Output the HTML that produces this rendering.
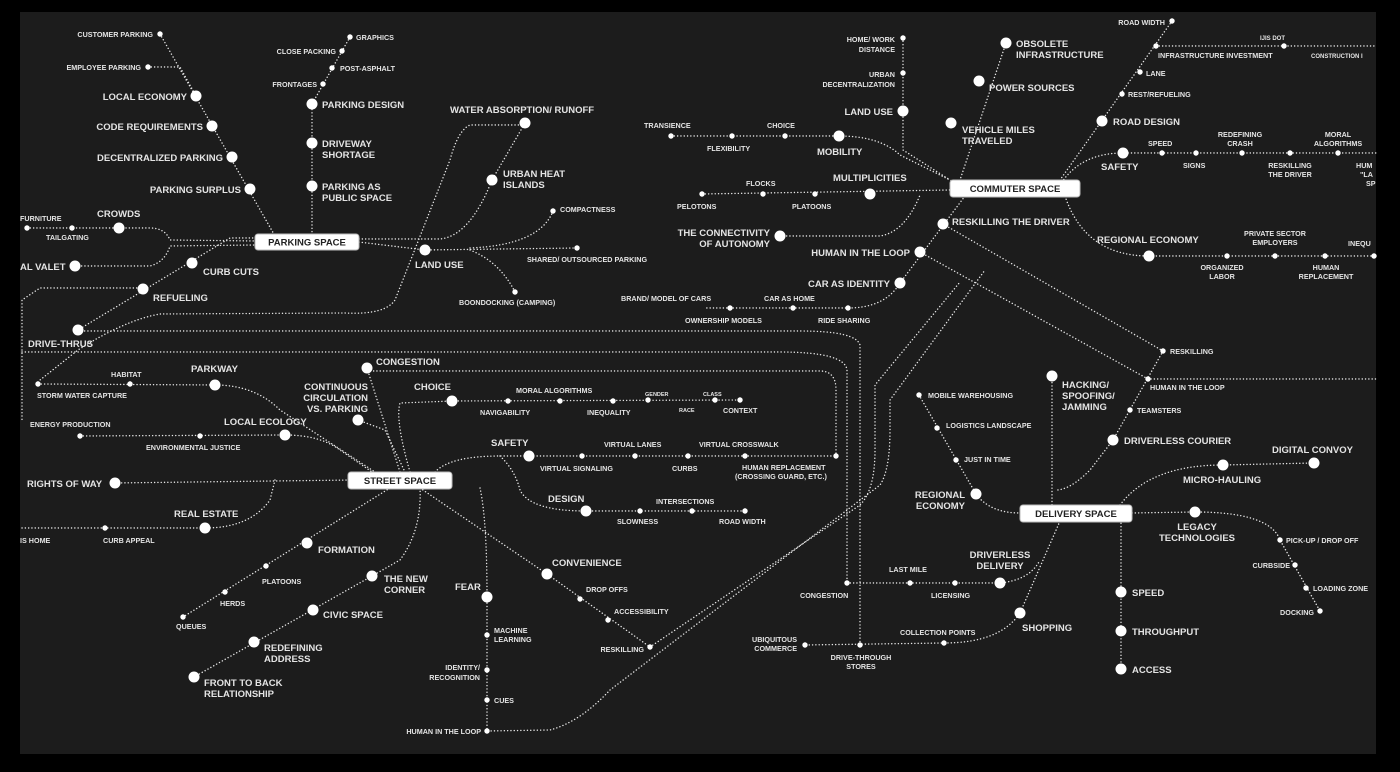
<!DOCTYPE html>
<html><head><meta charset="utf-8"><style>
html,body{margin:0;padding:0;background:#000;}
svg{display:block}
.l{fill:none;stroke:#e6e6e6;stroke-width:1.4;stroke-dasharray:0.1 3.2;stroke-linecap:round}
.B{fill:#fff}
.s{fill:#fff}
text{font-family:"Liberation Sans Narrow","Liberation Sans",sans-serif;fill:#e4e4e4;font-weight:bold}
.t{font-size:9.5px}
.u{font-size:7.2px}
.e{text-anchor:end}
.m{text-anchor:middle}
.bx{fill:#fff;stroke:#bbb;stroke-width:1}
.bt{font-size:9.5px;fill:#222;text-anchor:middle;font-family:"Liberation Sans",sans-serif}
</style></head><body>
<svg width="1400" height="772" viewBox="0 0 1400 772" xmlns="http://www.w3.org/2000/svg">
<rect x="0" y="0" width="1400" height="772" fill="#000"/>
<rect x="20" y="12" width="1356" height="742" fill="#1c1c1c"/>

<!-- ===== LINES ===== -->
<g class="l">
<!-- parking space -->
<path d="M160,34 L275,236"/>
<path d="M148,67 L180,67 L196,96"/>
<path d="M350,37 L312,104 L312,234"/>
<path d="M359,242 L425,250 L577,248"/>
<path d="M470,248 Q540,245 553,211"/>
<path d="M470,250 Q500,262 515,292"/>
<path d="M359,239 L440,239 Q470,236 492,180 L525,123"/>
<path d="M27,228 L150,228 Q165,228 170,240 L255,241"/>
<path d="M75,266 L150,266 Q165,262 170,246 L255,245"/>
<path d="M256,238 L230,238 L78,330"/>
<path d="M140,288 L40,288 L22,300 L22,420"/>
<path d="M525,125 L470,125 Q458,130 450,160 L395,300 Q385,315 345,313 L160,314 Q125,320 78,350 L40,380"/>
<!-- long horizontals -->
<path d="M78,331 L800,331 Q856,331 860,345 L860,645"/>
<path d="M22,352 L780,352 Q845,352 847,370 L847,583"/>
<path d="M367,371 L820,371 Q836,371 836,390 L836,456"/>
<!-- street space -->
<path d="M367,368 L400,472"/>
<path d="M38,384 L215,385 Q255,385 280,410 L375,472"/>
<path d="M80,436 L285,435 Q320,435 340,450 L375,474"/>
<path d="M358,420 L385,430 L405,472"/>
<path d="M410,472 Q395,420 400,403 L452,401 L740,400"/>
<path d="M115,483 L354,480"/>
<path d="M22,528 L205,528 Q250,528 270,500 L275,480"/>
<path d="M390,488 L183,617"/>
<path d="M420,488 Q422,530 400,560 L372,576 L194,677"/>
<path d="M480,488 Q487,520 487,597 L487,731 L550,730 Q580,722 610,690"/>
<path d="M420,488 L547,574 L650,647"/>
<path d="M435,472 Q450,456 500,456 L836,456"/>
<path d="M500,456 Q515,470 520,490 Q530,511 586,511 L745,511"/>
<!-- diagonals -->
<path d="M610,690 L880,485 Q890,470 890,430 L890,400 L985,270"/>
<path d="M650,647 L860,505 Q875,490 875,450 L875,385 L960,282"/>
<!-- commuter -->
<path d="M903,38 L903,150 L950,180"/>
<path d="M1006,43 L960,180"/>
<path d="M671,136 L839,136 Q880,136 900,155 L960,185"/>
<path d="M702,194 L950,190"/>
<path d="M780,236 L880,236 Q905,232 920,195"/>
<path d="M965,196 L900,283 Q885,308 848,308 L705,308"/>
<path d="M1172,21 L1060,180"/>
<path d="M1156,46 L1376,46"/>
<path d="M1060,185 Q1080,153 1123,153 L1376,153"/>
<path d="M1065,196 Q1085,256 1149,256 L1376,256"/>
<path d="M943,224 L1163,351"/>
<path d="M920,252 L1148,379 L1376,379"/>
<path d="M1163,351 L1113,440 L1090,470 Q1070,490 1056,490"/>
<path d="M1052,376 L1052,505"/>
<path d="M919,395 L976,494 Q990,513 1020,513"/>
<path d="M1120,505 Q1150,465 1223,465 L1314,463"/>
<path d="M1132,513 L1195,512 Q1270,512 1280,540 L1320,611"/>
<path d="M1121,520 L1121,669"/>
<path d="M1060,521 L1020,613 Q1000,643 944,643 L805,645"/>
<path d="M847,583 L1000,583 Q1030,580 1040,560"/>
</g>

<!-- ===== BOXES ===== -->
<rect class="bx" x="255" y="234" width="104" height="16" rx="3"/>
<text class="bt" x="307" y="245.5">PARKING SPACE</text>
<rect class="bx" x="950" y="180" width="130" height="17" rx="3"/>
<text class="bt" x="1015" y="192">COMMUTER SPACE</text>
<rect class="bx" x="348" y="472" width="104" height="17" rx="3"/>
<text class="bt" x="400" y="484">STREET SPACE</text>
<rect class="bx" x="1020" y="505" width="112" height="17" rx="3"/>
<text class="bt" x="1076" y="517">DELIVERY SPACE</text>

<!-- ===== BIG NODES ===== -->
<g class="B">
<circle cx="196" cy="96" r="5.5"/><circle cx="212" cy="126" r="5.5"/><circle cx="232" cy="157" r="5.5"/><circle cx="250" cy="189" r="5.5"/>
<circle cx="312" cy="104" r="5.5"/><circle cx="312" cy="143" r="5.5"/><circle cx="312" cy="186" r="5.5"/>
<circle cx="525" cy="123" r="5.5"/><circle cx="492" cy="180" r="5.5"/><circle cx="425" cy="250" r="5.5"/>
<circle cx="119" cy="228" r="5.5"/><circle cx="75" cy="266" r="5.5"/><circle cx="192" cy="263" r="5.5"/><circle cx="143" cy="289" r="5.5"/><circle cx="78" cy="330" r="5.5"/>
<circle cx="367" cy="368" r="5.5"/><circle cx="215" cy="385" r="5.5"/><circle cx="285" cy="435" r="5.5"/><circle cx="358" cy="420" r="5.5"/>
<circle cx="452" cy="401" r="5.5"/><circle cx="529" cy="456" r="5.5"/><circle cx="586" cy="511" r="5.5"/>
<circle cx="115" cy="483" r="5.5"/><circle cx="205" cy="528" r="5.5"/>
<circle cx="307" cy="543" r="5.5"/><circle cx="372" cy="576" r="5.5"/><circle cx="313" cy="610" r="5.5"/><circle cx="254" cy="642" r="5.5"/><circle cx="194" cy="677" r="5.5"/>
<circle cx="487" cy="597" r="5.5"/><circle cx="547" cy="574" r="5.5"/>
<circle cx="903" cy="111" r="5.5"/><circle cx="1006" cy="43" r="5.5"/><circle cx="979" cy="81" r="5.5"/><circle cx="951" cy="123" r="5.5"/>
<circle cx="839" cy="136" r="5.5"/><circle cx="870" cy="194" r="5.5"/><circle cx="780" cy="236" r="5.5"/>
<circle cx="943" cy="224" r="5.5"/><circle cx="920" cy="252" r="5.5"/><circle cx="900" cy="283" r="5.5"/>
<circle cx="1102" cy="121" r="5.5"/><circle cx="1123" cy="153" r="5.5"/><circle cx="1149" cy="256" r="5.5"/>
<circle cx="1052" cy="376" r="5.5"/><circle cx="1113" cy="440" r="5.5"/><circle cx="976" cy="494" r="5.5"/>
<circle cx="1223" cy="465" r="5.5"/><circle cx="1314" cy="463" r="5.5"/><circle cx="1195" cy="512" r="5.5"/>
<circle cx="1121" cy="592" r="5.5"/><circle cx="1121" cy="631" r="5.5"/><circle cx="1121" cy="669" r="5.5"/>
<circle cx="1000" cy="583" r="5.5"/><circle cx="1020" cy="613" r="5.5"/>
</g>
<!-- ===== SMALL NODES ===== -->
<g class="s">
<circle cx="160" cy="34" r="2.7"/><circle cx="148" cy="67" r="2.7"/>
<circle cx="350" cy="37" r="2.7"/><circle cx="342" cy="51" r="2.7"/><circle cx="332" cy="68" r="2.7"/><circle cx="323" cy="84" r="2.7"/>
<circle cx="553" cy="211" r="2.7"/><circle cx="577" cy="248" r="2.7"/><circle cx="515" cy="292" r="2.7"/>
<circle cx="27" cy="228" r="2.7"/><circle cx="72" cy="228" r="2.7"/>
<circle cx="38" cy="384" r="2.7"/><circle cx="130" cy="384" r="2.7"/><circle cx="200" cy="436" r="2.7"/><circle cx="80" cy="436" r="2.7"/>
<circle cx="508" cy="401" r="2.7"/><circle cx="560" cy="401" r="2.7"/><circle cx="613" cy="401" r="2.7"/><circle cx="648" cy="400" r="2.7"/><circle cx="715" cy="400" r="2.7"/><circle cx="740" cy="400" r="2.7"/>
<circle cx="582" cy="456" r="2.7"/><circle cx="635" cy="456" r="2.7"/><circle cx="688" cy="456" r="2.7"/><circle cx="745" cy="456" r="2.7"/><circle cx="836" cy="456" r="2.7"/>
<circle cx="640" cy="511" r="2.7"/><circle cx="692" cy="511" r="2.7"/><circle cx="745" cy="511" r="2.7"/>
<circle cx="105" cy="528" r="2.7"/>
<circle cx="266" cy="566" r="2.7"/><circle cx="225" cy="592" r="2.7"/><circle cx="183" cy="617" r="2.7"/>
<circle cx="487" cy="635" r="2.7"/><circle cx="487" cy="670" r="2.7"/><circle cx="487" cy="700" r="2.7"/><circle cx="487" cy="731" r="2.7"/>
<circle cx="580" cy="599" r="2.7"/><circle cx="608" cy="620" r="2.7"/><circle cx="650" cy="647" r="2.7"/>
<circle cx="903" cy="38" r="2.7"/><circle cx="903" cy="73" r="2.7"/>
<circle cx="671" cy="136" r="2.7"/><circle cx="732" cy="136" r="2.7"/><circle cx="785" cy="136" r="2.7"/>
<circle cx="702" cy="194" r="2.7"/><circle cx="763" cy="194" r="2.7"/><circle cx="815" cy="194" r="2.7"/>
<circle cx="848" cy="308" r="2.7"/><circle cx="793" cy="308" r="2.7"/><circle cx="730" cy="308" r="2.7"/>
<circle cx="1172" cy="21" r="2.7"/><circle cx="1156" cy="46" r="2.7"/><circle cx="1284" cy="46" r="2.7"/><circle cx="1140" cy="72" r="2.7"/><circle cx="1122" cy="94" r="2.7"/>
<circle cx="1162" cy="153" r="2.7"/><circle cx="1196" cy="153" r="2.7"/><circle cx="1242" cy="153" r="2.7"/><circle cx="1290" cy="153" r="2.7"/><circle cx="1338" cy="153" r="2.7"/>
<circle cx="1227" cy="256" r="2.7"/><circle cx="1275" cy="256" r="2.7"/><circle cx="1325" cy="256" r="2.7"/><circle cx="1374" cy="256" r="2.7"/>
<circle cx="1163" cy="351" r="2.7"/><circle cx="1148" cy="379" r="2.7"/><circle cx="1130" cy="410" r="2.7"/>
<circle cx="919" cy="395" r="2.7"/><circle cx="937" cy="428" r="2.7"/><circle cx="956" cy="460" r="2.7"/>
<circle cx="1280" cy="540" r="2.7"/><circle cx="1295" cy="565" r="2.7"/><circle cx="1306" cy="588" r="2.7"/><circle cx="1320" cy="611" r="2.7"/>
<circle cx="847" cy="583" r="2.7"/><circle cx="910" cy="583" r="2.7"/><circle cx="955" cy="583" r="2.7"/>
<circle cx="944" cy="643" r="2.7"/><circle cx="860" cy="645" r="2.7"/><circle cx="805" cy="645" r="2.7"/>
</g>

<!-- ===== LABELS ===== -->
<!-- parking -->
<text class="u e" x="153" y="37">CUSTOMER PARKING</text>
<text class="u e" x="141" y="70">EMPLOYEE PARKING</text>
<text class="t e" x="187" y="100">LOCAL ECONOMY</text>
<text class="t e" x="203" y="130">CODE REQUIREMENTS</text>
<text class="t e" x="223" y="161">DECENTRALIZED PARKING</text>
<text class="t e" x="241" y="193">PARKING SURPLUS</text>
<text class="u" x="356" y="40">GRAPHICS</text>
<text class="u e" x="336" y="54">CLOSE PACKING</text>
<text class="u" x="340" y="71">POST-ASPHALT</text>
<text class="u e" x="317" y="87">FRONTAGES</text>
<text class="t" x="322" y="108">PARKING DESIGN</text>
<text class="t" x="322" y="147">DRIVEWAY</text><text class="t" x="322" y="158">SHORTAGE</text>
<text class="t" x="322" y="190">PARKING AS</text><text class="t" x="322" y="201">PUBLIC SPACE</text>
<text class="t" x="450" y="113">WATER ABSORPTION/ RUNOFF</text>
<text class="t" x="503" y="177">URBAN HEAT</text><text class="t" x="503" y="188">ISLANDS</text>
<text class="u" x="560" y="212">COMPACTNESS</text>
<text class="u" x="527" y="262">SHARED/ OUTSOURCED PARKING</text>
<text class="t" x="415" y="268">LAND USE</text>
<text class="u" x="459" y="305">BOONDOCKING (CAMPING)</text>
<text class="u" x="20" y="221">FURNITURE</text>
<text class="u" x="46" y="240">TAILGATING</text>
<text class="t" x="97" y="217">CROWDS</text>
<text class="t" x="20" y="270">AL VALET</text>
<text class="t" x="203" y="275">CURB CUTS</text>
<text class="t" x="153" y="301">REFUELING</text>
<text class="t" x="28" y="347">DRIVE-THRUS</text>
<!-- street -->
<text class="t" x="376" y="365">CONGESTION</text>
<text class="u" x="111" y="377">HABITAT</text>
<text class="u" x="37" y="398">STORM WATER CAPTURE</text>
<text class="t" x="191" y="372">PARKWAY</text>
<text class="t e" x="368" y="390">CONTINUOUS</text><text class="t e" x="368" y="401">CIRCULATION</text><text class="t e" x="368" y="412">VS. PARKING</text>
<text class="u" x="30" y="427">ENERGY PRODUCTION</text>
<text class="u" x="146" y="450">ENVIRONMENTAL JUSTICE</text>
<text class="t" x="224" y="425">LOCAL ECOLOGY</text>
<text class="t" x="414" y="390">CHOICE</text>
<text class="u" x="516" y="393">MORAL ALGORITHMS</text>
<text class="u" x="480" y="415">NAVIGABILITY</text>
<text class="u" x="587" y="415">INEQUALITY</text>
<text class="u" x="645" y="396" style="font-size:5.5px">GENDER</text>
<text class="u" x="679" y="412" style="font-size:5.5px">RACE</text>
<text class="u" x="703" y="396" style="font-size:5.5px">CLASS</text>
<text class="u" x="723" y="413">CONTEXT</text>
<text class="t" x="491" y="446">SAFETY</text>
<text class="u" x="604" y="447">VIRTUAL LANES</text>
<text class="u" x="540" y="471">VIRTUAL SIGNALING</text>
<text class="u" x="672" y="471">CURBS</text>
<text class="u" x="699" y="447">VIRTUAL CROSSWALK</text>
<text class="u" x="742" y="470">HUMAN REPLACEMENT</text>
<text class="u" x="735" y="479">(CROSSING GUARD, ETC.)</text>
<text class="t" x="548" y="502">DESIGN</text>
<text class="u" x="656" y="504">INTERSECTIONS</text>
<text class="u" x="617" y="524">SLOWNESS</text>
<text class="u" x="719" y="524">ROAD WIDTH</text>
<text class="t" x="27" y="487">RIGHTS OF WAY</text>
<text class="t" x="174" y="517">REAL ESTATE</text>
<text class="u" x="20" y="543">IS HOME</text>
<text class="u" x="103" y="543">CURB APPEAL</text>
<text class="t" x="318" y="553">FORMATION</text>
<text class="u" x="262" y="584">PLATOONS</text>
<text class="u" x="220" y="606">HERDS</text>
<text class="u" x="176" y="629">QUEUES</text>
<text class="t" x="384" y="582">THE NEW</text><text class="t" x="384" y="593">CORNER</text>
<text class="t" x="323" y="618">CIVIC SPACE</text>
<text class="t" x="264" y="651">REDEFINING</text><text class="t" x="264" y="662">ADDRESS</text>
<text class="t" x="204" y="686">FRONT TO BACK</text><text class="t" x="204" y="697">RELATIONSHIP</text>
<text class="t" x="455" y="590">FEAR</text>
<text class="u" x="494" y="633">MACHINE</text><text class="u" x="494" y="642">LEARNING</text>
<text class="u e" x="480" y="670">IDENTITY/</text><text class="u e" x="480" y="680">RECOGNITION</text>
<text class="u" x="494" y="703">CUES</text>
<text class="u e" x="481" y="734">HUMAN IN THE LOOP</text>
<text class="t" x="552" y="566">CONVENIENCE</text>
<text class="u" x="586" y="592">DROP OFFS</text>
<text class="u" x="614" y="614">ACCESSIBILITY</text>
<text class="u e" x="644" y="652">RESKILLING</text>
<!-- commuter -->
<text class="u e" x="895" y="42">HOME/ WORK</text><text class="u e" x="895" y="52">DISTANCE</text>
<text class="u e" x="895" y="77">URBAN</text><text class="u e" x="895" y="87">DECENTRALIZATION</text>
<text class="t e" x="893" y="115">LAND USE</text>
<text class="t" x="1016" y="47">OBSOLETE</text><text class="t" x="1016" y="58">INFRASTRUCTURE</text>
<text class="t" x="989" y="91">POWER SOURCES</text>
<text class="t" x="962" y="133">VEHICLE MILES</text><text class="t" x="962" y="144">TRAVELED</text>
<text class="u" x="644" y="128">TRANSIENCE</text>
<text class="u" x="707" y="151">FLEXIBILITY</text>
<text class="u" x="767" y="128">CHOICE</text>
<text class="t" x="817" y="155">MOBILITY</text>
<text class="u" x="746" y="186">FLOCKS</text>
<text class="u" x="677" y="209">PELOTONS</text>
<text class="u" x="792" y="209">PLATOONS</text>
<text class="t" x="833" y="181">MULTIPLICITIES</text>
<text class="t e" x="770" y="236">THE CONNECTIVITY</text><text class="t e" x="770" y="247">OF AUTONOMY</text>
<text class="t" x="952" y="225">RESKILLING THE DRIVER</text>
<text class="t e" x="910" y="256">HUMAN IN THE LOOP</text>
<text class="t e" x="890" y="287">CAR AS IDENTITY</text>
<text class="u" x="621" y="301">BRAND/ MODEL OF CARS</text>
<text class="u" x="764" y="301">CAR AS HOME</text>
<text class="u" x="685" y="323">OWNERSHIP MODELS</text>
<text class="u" x="818" y="323">RIDE SHARING</text>
<text class="u e" x="1165" y="25">ROAD WIDTH</text>
<text class="u" x="1260" y="40" style="font-size:6px">IJIS DOT</text>
<text class="u" x="1158" y="58">INFRASTRUCTURE INVESTMENT</text>
<text class="u" x="1311" y="58" style="font-size:6px">CONSTRUCTION I</text>
<text class="u" x="1146" y="76">LANE</text>
<text class="u" x="1128" y="97">REST/REFUELING</text>
<text class="t" x="1113" y="125">ROAD DESIGN</text>
<text class="t" x="1101" y="170">SAFETY</text>
<text class="u" x="1148" y="146">SPEED</text>
<text class="u" x="1183" y="168">SIGNS</text>
<text class="u m" x="1240" y="137">REDEFINING</text><text class="u m" x="1240" y="146">CRASH</text>
<text class="u m" x="1290" y="168">RESKILLING</text><text class="u m" x="1290" y="177">THE DRIVER</text>
<text class="u m" x="1338" y="137">MORAL</text><text class="u m" x="1338" y="146">ALGORITHMS</text>
<text class="u" x="1356" y="168">HUM</text><text class="u" x="1360" y="177">"LA</text><text class="u" x="1366" y="186">SP</text>
<text class="t" x="1097" y="243">REGIONAL ECONOMY</text>
<text class="u m" x="1275" y="236">PRIVATE SECTOR</text><text class="u m" x="1275" y="245">EMPLOYERS</text>
<text class="u" x="1348" y="246">INEQU</text>
<text class="u m" x="1222" y="270">ORGANIZED</text><text class="u m" x="1222" y="279">LABOR</text>
<text class="u m" x="1326" y="270">HUMAN</text><text class="u m" x="1326" y="279">REPLACEMENT</text>
<!-- delivery -->
<text class="u" x="1170" y="354">RESKILLING</text>
<text class="u" x="1150" y="390">HUMAN IN THE LOOP</text>
<text class="u" x="1137" y="413">TEAMSTERS</text>
<text class="t" x="1062" y="388">HACKING/</text><text class="t" x="1062" y="399">SPOOFING/</text><text class="t" x="1062" y="410">JAMMING</text>
<text class="t" x="1124" y="444">DRIVERLESS COURIER</text>
<text class="u" x="928" y="398">MOBILE WAREHOUSING</text>
<text class="u" x="946" y="428">LOGISTICS LANDSCAPE</text>
<text class="u" x="964" y="462">JUST IN TIME</text>
<text class="t e" x="965" y="498">REGIONAL</text><text class="t e" x="965" y="509">ECONOMY</text>
<text class="t" x="1272" y="453">DIGITAL CONVOY</text>
<text class="t" x="1183" y="483">MICRO-HAULING</text>
<text class="t m" x="1197" y="530">LEGACY</text><text class="t m" x="1197" y="541">TECHNOLOGIES</text>
<text class="u" x="1286" y="543">PICK-UP / DROP OFF</text>
<text class="u e" x="1290" y="568">CURBSIDE</text>
<text class="u" x="1313" y="591">LOADING ZONE</text>
<text class="u e" x="1314" y="615">DOCKING</text>
<text class="t" x="1132" y="596">SPEED</text>
<text class="t" x="1132" y="635">THROUGHPUT</text>
<text class="t" x="1132" y="673">ACCESS</text>
<text class="t m" x="1000" y="558">DRIVERLESS</text><text class="t m" x="1000" y="569">DELIVERY</text>
<text class="u" x="889" y="572">LAST MILE</text>
<text class="u" x="931" y="598">LICENSING</text>
<text class="u" x="800" y="598">CONGESTION</text>
<text class="t" x="1022" y="631">SHOPPING</text>
<text class="u" x="900" y="635">COLLECTION POINTS</text>
<text class="u e" x="797" y="642">UBIQUITOUS</text><text class="u e" x="797" y="651">COMMERCE</text>
<text class="u m" x="861" y="660">DRIVE-THROUGH</text><text class="u m" x="861" y="669">STORES</text>
</g>
</svg>
</body></html>
